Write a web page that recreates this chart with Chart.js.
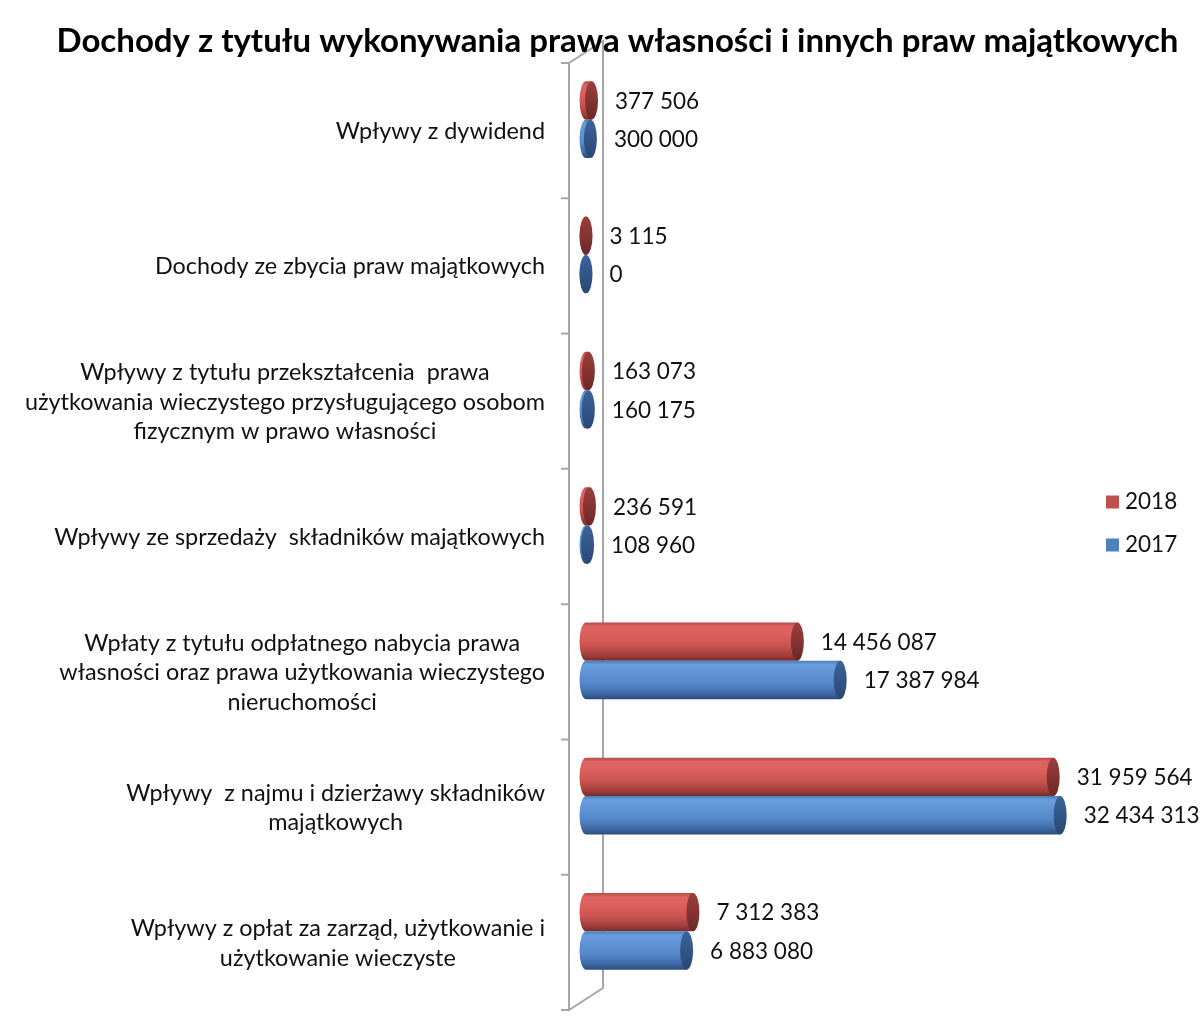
<!DOCTYPE html>
<html><head><meta charset="utf-8">
<script src="https://cdn.jsdelivr.net/npm/chart.js@4.4.1/dist/chart.umd.min.js"></script>
<style>html,body{margin:0;padding:0;background:#fff;}canvas{display:block}</style>
</head><body>
<canvas id="c" width="1200" height="1028"></canvas>
<script>
const TITLE = 'Dochody z tytułu wykonywania prawa własności i innych praw majątkowych';
const categories = [
  ['Wpływy z dywidend'],
  ['Dochody ze zbycia praw majątkowych'],
  ['Wpływy z tytułu przekształcenia  prawa', 'użytkowania wieczystego przysługującego osobom', 'fizycznym w prawo własności'],
  ['Wpływy ze sprzedaży  składników majątkowych'],
  ['Wpłaty z tytułu odpłatnego nabycia prawa', 'własności oraz prawa użytkowania wieczystego', 'nieruchomości'],
  ['Wpływy  z najmu i dzierżawy składników', 'majątkowych'],
  ['Wpływy z opłat za zarząd, użytkowanie i', 'użytkowanie wieczyste']
];
const series2018 = [377506, 3115, 163073, 236591, 14456087, 31959564, 7312383];
const series2017 = [300000, 0, 160175, 108960, 17387984, 32434313, 6883080];
const seriesNames = ['2018', '2017'];

const STYLE = {
  '2018': {
    legend: '#c0504d',
    body: [[0,'#b84846'],[0.1,'#dc6462'],[0.3,'#dd605e'],[0.6,'#cc5452'],[0.85,'#a23f3d'],[1,'#782c2b']],
    cap: [[0,'#9c3f3d'],[1,'#6c2827']]
  },
  '2017': {
    legend: '#4f81bd',
    body: [[0,'#4a7cbc'],[0.1,'#6a9edc'],[0.3,'#6095d7'],[0.6,'#5588cb'],[0.85,'#3f69a6'],[1,'#2c4c7c']],
    cap: [[0,'#3c649a'],[1,'#2a4774']]
  }
};

const FONT = 'Lato, "Open Sans", sans-serif';
const DEPTH_X = 17, DEPTH_Y = 11, CAP_RX = 6.5;

function fmt(v) { return String(v).replace(/\B(?=(\d{3})+(?!\d))/g, ' '); }

function vGrad(ctx, top, bottom, stops) {
  const g = ctx.createLinearGradient(0, top, 0, bottom);
  stops.forEach(s => g.addColorStop(s[0], s[1]));
  return g;
}

const cylinderPlugin = {
  id: 'cylinder3d',
  beforeDraw(chart) {
    const ctx = chart.ctx, a = chart.chartArea, xs = chart.scales.x, ys = chart.scales.y;
    ctx.save();
    ctx.fillStyle = '#fff';
    ctx.fillRect(0, 0, chart.width, chart.height);
    const x0 = xs.getPixelForValue(0);
    const fx = x0 - DEPTH_X, bx = x0 + DEPTH_X;
    const n = categories.length;
    const band = (a.bottom - a.top) / n;
    ctx.strokeStyle = '#a6a6a6';
    ctx.lineWidth = 2;
    ctx.beginPath();
    ctx.moveTo(fx - 8, a.top + DEPTH_Y);
    ctx.lineTo(fx, a.top + DEPTH_Y);
    ctx.lineTo(fx, a.bottom + DEPTH_Y);
    ctx.lineTo(bx, a.bottom - DEPTH_Y);
    ctx.lineTo(bx, a.top - DEPTH_Y);
    ctx.lineTo(fx, a.top + DEPTH_Y);
    for (let i = 1; i <= n; i++) {
      const y = a.top + i * band + DEPTH_Y;
      ctx.moveTo(fx - 8, y);
      ctx.lineTo(fx, y);
    }
    ctx.stroke();

    ctx.font = '23.4px ' + FONT;
    ctx.fillStyle = '#111';
    ctx.textBaseline = 'middle';
    ctx.textAlign = 'center';
    const right = fx - 24;
    const lh = 29.5;
    categories.forEach((lines, i) => {
      const cy = ys.getPixelForTick(i) + 12;
      const w = Math.max(...lines.map(l => ctx.measureText(l).width));
      const cx = right - w / 2;
      lines.forEach((l, j) => {
        ctx.fillText(l, cx, cy + (j - (lines.length - 1) / 2) * lh);
      });
    });
    ctx.restore();
  },
  afterDatasetsDraw(chart) {
    const ctx = chart.ctx;
    ctx.save();
    chart.data.datasets.forEach((ds, di) => {
      const meta = chart.getDatasetMeta(di);
      const st = STYLE[ds.label];
      meta.data.forEach((bar, i) => {
        const p = bar.getProps(['x', 'y', 'base', 'height'], true);
        const x0 = p.base, x1 = p.x, yc = p.y, ry = p.height / 2;
        const top = yc - ry, bot = yc + ry;
        ctx.beginPath();
        ctx.moveTo(x1, top);
        ctx.lineTo(x0, top);
        ctx.ellipse(x0, yc, CAP_RX, ry, 0, -Math.PI / 2, -3 * Math.PI / 2, true);
        ctx.lineTo(x1, bot);
        ctx.closePath();
        ctx.fillStyle = vGrad(ctx, top, bot, st.body);
        ctx.fill();
        ctx.beginPath();
        ctx.ellipse(x1, yc, CAP_RX, ry, 0, 0, Math.PI * 2);
        ctx.fillStyle = vGrad(ctx, top, bot, st.cap);
        ctx.fill();
      });
    });
    ctx.font = '22.5px ' + FONT;
    ctx.fillStyle = '#111';
    ctx.textBaseline = 'middle';
    ctx.textAlign = 'left';
    chart.data.datasets.forEach((ds, di) => {
      const meta = chart.getDatasetMeta(di);
      meta.data.forEach((bar, i) => {
        const p = bar.getProps(['x', 'y'], true);
        const gap = (p.x - meta.iScale.getPixelForValue(0) < 20) ? 22 : 17;
        ctx.fillText(fmt(ds.data[i]), p.x + CAP_RX + gap, p.y + 1);
      });
    });
    ctx.restore();
  },
  afterDraw(chart) {
    const ctx = chart.ctx;
    ctx.save();
    ctx.font = '22.5px ' + FONT;
    ctx.textBaseline = 'middle';
    ctx.textAlign = 'left';
    chart.data.datasets.forEach((ds, di) => {
      const y = 502 + di * 43;
      ctx.fillStyle = STYLE[ds.label].legend;
      ctx.fillRect(1106, y - 6.5, 13, 13);
      ctx.fillStyle = '#111';
      ctx.fillText(ds.label, 1125, y);
    });
    ctx.restore();
  }
};

new Chart(document.getElementById('c'), {
  type: 'bar',
  data: {
    labels: categories,
    datasets: [
      { label: seriesNames[0], data: series2018, backgroundColor: 'rgba(0,0,0,0)', borderWidth: 0 },
      { label: seriesNames[1], data: series2017, backgroundColor: 'rgba(0,0,0,0)', borderWidth: 0 }
    ]
  },
  options: {
    indexAxis: 'y',
    responsive: false,
    animation: false,
    devicePixelRatio: 1,
    layout: { padding: { left: 35, right: 0, top: 0, bottom: 29 } },
    datasets: { bar: { categoryPercentage: 0.567, barPercentage: 1.0 } },
    scales: {
      x: { display: false, min: 0, max: 42000000 },
      y: {
        display: true,
        grid: { display: false, drawTicks: false },
        border: { display: false },
        ticks: { display: false },
        afterFit(scale) { scale.width = 551; }
      }
    },
    plugins: {
      legend: { display: false },
      tooltip: { enabled: false },
      title: {
        display: true,
        text: TITLE,
        color: '#000',
        font: { family: FONT, size: 33, weight: 'bold', lineHeight: 1 },
        padding: { top: 25, bottom: -6 }
      }
    }
  },
  plugins: [cylinderPlugin]
});
</script>
</body></html>
